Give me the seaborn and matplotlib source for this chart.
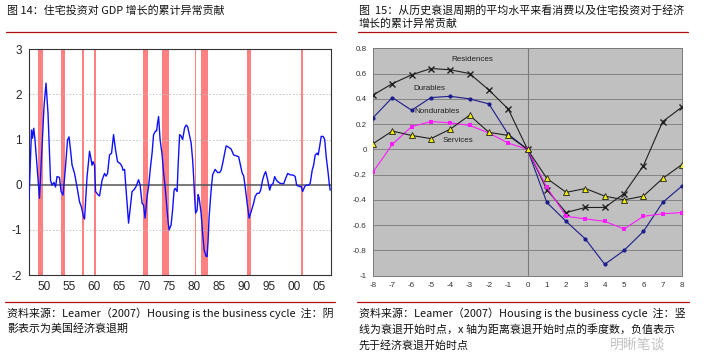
import numpy as np
import pandas as pd
import matplotlib
matplotlib.use("Agg")
import matplotlib.pyplot as plt
from matplotlib.lines import Line2D
import seaborn as sns

# ---- left chart: cumulative abnormal contribution of housing investment ----
years = [
    1947.0, 1947.5, 1947.7, 1947.95, 1948.2, 1949.1, 1949.5, 1950.0, 1950.4, 1950.8,
    1951.3, 1951.6, 1952.0, 1952.3, 1952.6, 1953.1, 1953.4, 1953.8, 1954.3, 1954.7,
    1955.0, 1955.3, 1955.6, 1956.1, 1956.6, 1957.1, 1957.5, 1957.9, 1958.1, 1958.6,
    1959.1, 1959.4, 1959.6, 1959.8, 1960.1, 1960.3, 1960.7, 1961.1, 1961.6, 1962.1,
    1962.4, 1962.7, 1963.1, 1963.5, 1963.9, 1964.3, 1964.7, 1965.3, 1965.6, 1965.8,
    1966.1, 1966.5, 1966.9, 1967.3, 1967.6, 1968.0, 1968.4, 1968.9, 1969.2, 1969.6,
    1969.9, 1970.2, 1970.6, 1970.9, 1971.3, 1971.6, 1971.9, 1972.3, 1972.5, 1972.7,
    1972.9, 1973.2, 1973.6, 1973.9, 1974.2, 1974.6, 1974.8, 1975.0, 1975.4, 1975.7,
    1976.0, 1976.2, 1976.6, 1976.8, 1977.1, 1977.4, 1977.7, 1978.1, 1978.4, 1978.7,
    1979.1, 1979.4, 1979.7, 1979.9, 1980.1, 1980.3, 1980.6, 1980.8, 1981.0, 1981.4,
    1981.7, 1982.0, 1982.4, 1982.6, 1982.8, 1983.0, 1983.4, 1983.7, 1984.2, 1984.7,
    1985.1, 1985.4, 1985.7, 1986.1, 1986.4, 1986.9, 1987.4, 1987.9, 1988.4, 1988.9,
    1989.2, 1989.6, 1989.9, 1990.2, 1990.6, 1991.0, 1991.4, 1991.9, 1992.2, 1992.6,
    1993.0, 1993.3, 1993.7, 1994.0, 1994.3, 1994.7, 1995.1, 1995.4, 1995.8, 1996.1,
    1996.4, 1996.7, 1997.2, 1997.9, 1998.3, 1998.7, 1999.2, 1999.9, 2000.2, 2000.5,
    2001.0, 2001.4, 2001.7, 2002.1, 2002.4, 2002.9, 2003.2, 2003.6, 2003.9, 2004.2,
    2004.6, 2004.8, 2005.1, 2005.4, 2005.8, 2006.1, 2006.4, 2006.8, 2007.0, 2007.2,
]
housing = [
    -0.32, 1.21, 1.03, 1.25, 0.99, -0.30, 0.62, 1.73, 2.25, 1.58,
    0.10, -0.01, 0.05, -0.05, 0.18, 0.16, -0.15, -0.23, 0.40, 0.99,
    1.06, 0.77, 0.44, 0.25, -0.05, -0.38, -0.50, -0.72, -0.76, 0.17,
    0.74, 0.57, 0.43, 0.51, 0.43, -0.15, -0.21, -0.25, 0.10, 0.25,
    0.19, 0.25, 0.66, 0.70, 1.11, 0.77, 0.51, 0.46, 0.40, 0.32,
    0.34, -0.27, -0.85, -0.45, -0.15, -0.11, -0.04, 0.11, 0.00, -0.41,
    -0.45, -0.74, -0.26, -0.04, 0.41, 0.70, 1.11, 1.19, 1.19, 1.37,
    1.51, 1.00, 0.67, 0.26, -0.04, -0.56, -0.82, -1.00, -0.89, -0.56,
    -0.12, -0.08, -0.15, 0.41, 1.11, 1.08, 1.00, 1.26, 1.32, 1.29,
    1.08, 0.93, 0.56, 0.19, -0.26, -0.63, -0.56, -0.22, -0.29, -0.63,
    -1.07, -1.44, -1.59, -1.59, -1.22, -0.71, -0.12, 0.22, 0.34, 0.27,
    0.27, 0.32, 0.47, 0.70, 0.86, 0.83, 0.79, 0.66, 0.64, 0.62,
    0.47, 0.26, 0.20, -0.04, -0.41, -0.74, -0.59, -0.41, -0.26, -0.19,
    -0.19, -0.12, 0.11, 0.22, 0.29, 0.11, -0.12, -0.01, 0.03, 0.18,
    0.11, 0.07, 0.03, 0.02, 0.14, 0.25, 0.22, 0.21, 0.18, -0.01,
    -0.04, -0.04, -0.15, -0.04, -0.01, -0.01, 0.03, 0.32, 0.44, 0.66,
    0.70, 0.66, 0.85, 1.07, 1.07, 1.00, 0.62, 0.25, 0.03, -0.12,
]
rec_start = [1948.7, 1953.3, 1957.6, 1960.0, 1969.8, 1973.6, 1980.2, 1981.3, 1990.6, 2001.3]
rec_end = [1949.7, 1954.1, 1957.9, 1960.4, 1970.7, 1975.0, 1980.4, 1982.8, 1991.3, 2001.7]
year_labels = ["50", "55", "60", "65", "70", "75", "80", "85", "90", "95", "00", "05"]

# ---- right chart: average over recession cycles ----
quarters = list(range(-8, 9))
residences = [0.43, 0.52, 0.59, 0.64, 0.63, 0.60, 0.47, 0.32, 0.0,
              -0.32, -0.50, -0.46, -0.46, -0.35, -0.13, 0.22, 0.335]
durables = [0.25, 0.41, 0.31, 0.41, 0.42, 0.40, 0.36, 0.12, 0.0,
            -0.42, -0.57, -0.71, -0.91, -0.80, -0.65, -0.42, -0.29]
nondurables = [-0.18, 0.04, 0.18, 0.22, 0.21, 0.19, 0.13, 0.05, 0.0,
               -0.30, -0.53, -0.55, -0.57, -0.63, -0.53, -0.51, -0.50]
services = [0.045, 0.145, 0.11, 0.085, 0.16, 0.27, 0.135, 0.11, 0.0,
            -0.23, -0.34, -0.31, -0.37, -0.40, -0.37, -0.23, -0.12]

sns.set_style("white")
plt.rcParams['font.family'] = ['Noto Sans CJK SC', 'DejaVu Sans']
CJK = ['Noto Sans CJK SC', 'DejaVu Sans']
ARIAL = ['Liberation Sans', 'DejaVu Sans']

fig = plt.figure(figsize=(7.04, 3.56), dpi=100)
W, H = 704, 356


def box(l, t, r, b):
    return [l / W, 1 - b / H, (r - l) / W, (b - t) / H]


# ---------------- left panel ----------------
ax1 = fig.add_axes(box(29, 49.3, 330.7, 275))
for s, e in zip(rec_start, rec_end):
    ax1.axvspan(s, e, color='#ff8080', lw=0, zorder=1)
for v in [-1, 1, 2]:
    ax1.axhline(v, color='#bdbdbd', lw=0.6, ls=(0, (2, 2)), zorder=2)
ax1.axhline(0, color='#555555', lw=1.1, zorder=3)
df1 = pd.DataFrame({'year': years, 'value': housing})
sns.lineplot(data=df1, x='year', y='value', ax=ax1, color='#1010ff', lw=1.0,
             sort=False, estimator=None, zorder=4)
ax1.set_xlim(1947.0, 2007.3)
ax1.set_ylim(-2, 3)
ax1.set_xlabel('')
ax1.set_ylabel('')
ax1.set_yticks([-2, -1, 0, 1, 2, 3])
ax1.set_yticklabels(['-2', '-1', '0', '1', '2', '3'], fontsize=8.5, family=ARIAL)
ax1.set_xticks([1950 + 5 * i for i in range(12)])
ax1.set_xticklabels(year_labels, fontsize=8.5, family=ARIAL)
ax1.set_xticks(np.arange(1948, 2008), minor=True)
ax1.tick_params(axis='x', which='both', direction='out', length=3, width=0.7,
                color='#333333', pad=1.5)
ax1.tick_params(axis='y', direction='out', length=3, width=0.7, color='#333333', pad=2)
for sp in ax1.spines.values():
    sp.set_color('#333333')
    sp.set_linewidth(0.8)

# ---------------- right panel ----------------
ax2 = fig.add_axes(box(373, 48.3, 682, 275.7))
ax2.set_facecolor('#c0c0c0')
for v in np.arange(-0.8, 0.81, 0.2):
    ax2.axhline(v, color='#7a7a7a', lw=0.6, zorder=1)
ax2.axvline(0, color='#7a7a7a', lw=0.8, zorder=1)

df2 = pd.DataFrame({'q': quarters, 'Residences': residences, 'Durables': durables,
                    'Nondurables': nondurables, 'Services': services})
sns.lineplot(data=df2, x='q', y='Residences', ax=ax2, color='#202020', lw=0.8,
             marker='x', markersize=4, markeredgewidth=1.0, markeredgecolor='#202020',
             zorder=3)
sns.lineplot(data=df2, x='q', y='Durables', ax=ax2, color='#1c1c8c', lw=0.8,
             marker='o', markersize=3, markeredgewidth=0, zorder=3)
sns.lineplot(data=df2, x='q', y='Nondurables', ax=ax2, color='#ff1aff', lw=0.8,
             marker='s', markersize=3.5, markeredgewidth=0, zorder=3)
sns.lineplot(data=df2, x='q', y='Services', ax=ax2, color='#202020', lw=0.8,
             marker='^', markersize=4.5, markerfacecolor='#f0f000',
             markeredgecolor='#202020', markeredgewidth=0.6, zorder=4)

lab_kw = dict(fontsize=5.8, family=ARIAL, color='#222222', ha='center', va='center')
ax2.text(-2.84, 0.71, 'Residences', **lab_kw)
ax2.text(-5.1, 0.48, 'Durables', **lab_kw)
ax2.text(-4.7, 0.30, 'Nondurables', **lab_kw)
ax2.text(-3.6, 0.07, 'Services', **lab_kw)

ax2.set_xlim(-8, 8)
ax2.set_ylim(-1, 0.8)
ax2.set_xlabel('')
ax2.set_ylabel('')
ax2.set_xticks(quarters)
ax2.set_xticklabels([str(q) for q in quarters], fontsize=5.8, family=ARIAL, color='#333333')
yt = np.round(np.arange(-1, 0.81, 0.2), 1)
ax2.set_yticks(yt)
ax2.set_yticklabels(['0' if abs(v) < 1e-9 else ('-1' if v == -1 else f'{v:g}') for v in yt],
                    fontsize=5.8, family=ARIAL, color='#333333')
ax2.tick_params(direction='out', length=2.5, width=0.6, color='#555555', pad=2)
for sp in ax2.spines.values():
    sp.set_color('#7a7a7a')
    sp.set_linewidth(0.7)

# ---------------- titles, rules and notes ----------------
red = '#b01010'
fig.text(7 / W, 1 - 11 / H, '图 14：住宅投资对 GDP 增长的累计异常贡献', fontsize=7.9,
         family=CJK, color='#111111', va='center', ha='left')
fig.text(359 / W, 1 - 10 / H, '图  15：从历史衰退周期的平均水平来看消费以及住宅投资对于经济',
         fontsize=7.9, family=CJK, color='#111111', va='center', ha='left')
fig.text(359 / W, 1 - 24 / H, '增长的累计异常贡献', fontsize=7.9, family=CJK,
         color='#111111', va='center', ha='left')
fig.add_artist(Line2D([6 / W, 336 / W], [1 - 31.7 / H] * 2, color=red, lw=0.9))
fig.add_artist(Line2D([358 / W, 688 / W], [1 - 31.7 / H] * 2, color=red, lw=0.9))

fig.add_artist(Line2D([5 / W, 335 / W], [1 - 302 / H] * 2, color=red, lw=0.9))
fig.add_artist(Line2D([357 / W, 689 / W], [1 - 302 / H] * 2, color=red, lw=0.9))
note_kw = dict(fontsize=7.9, family=CJK, color='#111111', va='center', ha='left')
fig.text(7 / W, 1 - 313 / H,
         '资料来源：Leamer（2007）Housing is the business cycle  注：阴', **note_kw)
fig.text(7 / W, 1 - 329 / H, '影表示为美国经济衰退期', **note_kw)
fig.text(359 / W, 1 - 313 / H,
         '资料来源：Leamer（2007）Housing is the business cycle  注：竖', **note_kw)
fig.text(359 / W, 1 - 329 / H, '线为衰退开始时点，x 轴为距离衰退开始时点的季度数，负值表示',
         **note_kw)
fig.text(359 / W, 1 - 345 / H, '先于经济衰退开始时点', **note_kw)
fig.text(610 / W, 1 - 345 / H, '明晰笔谈', fontsize=10, family=CJK, color='#9a9a9a',
         alpha=0.6, va='center', ha='left')

fig.savefig('out.png', dpi=100)
